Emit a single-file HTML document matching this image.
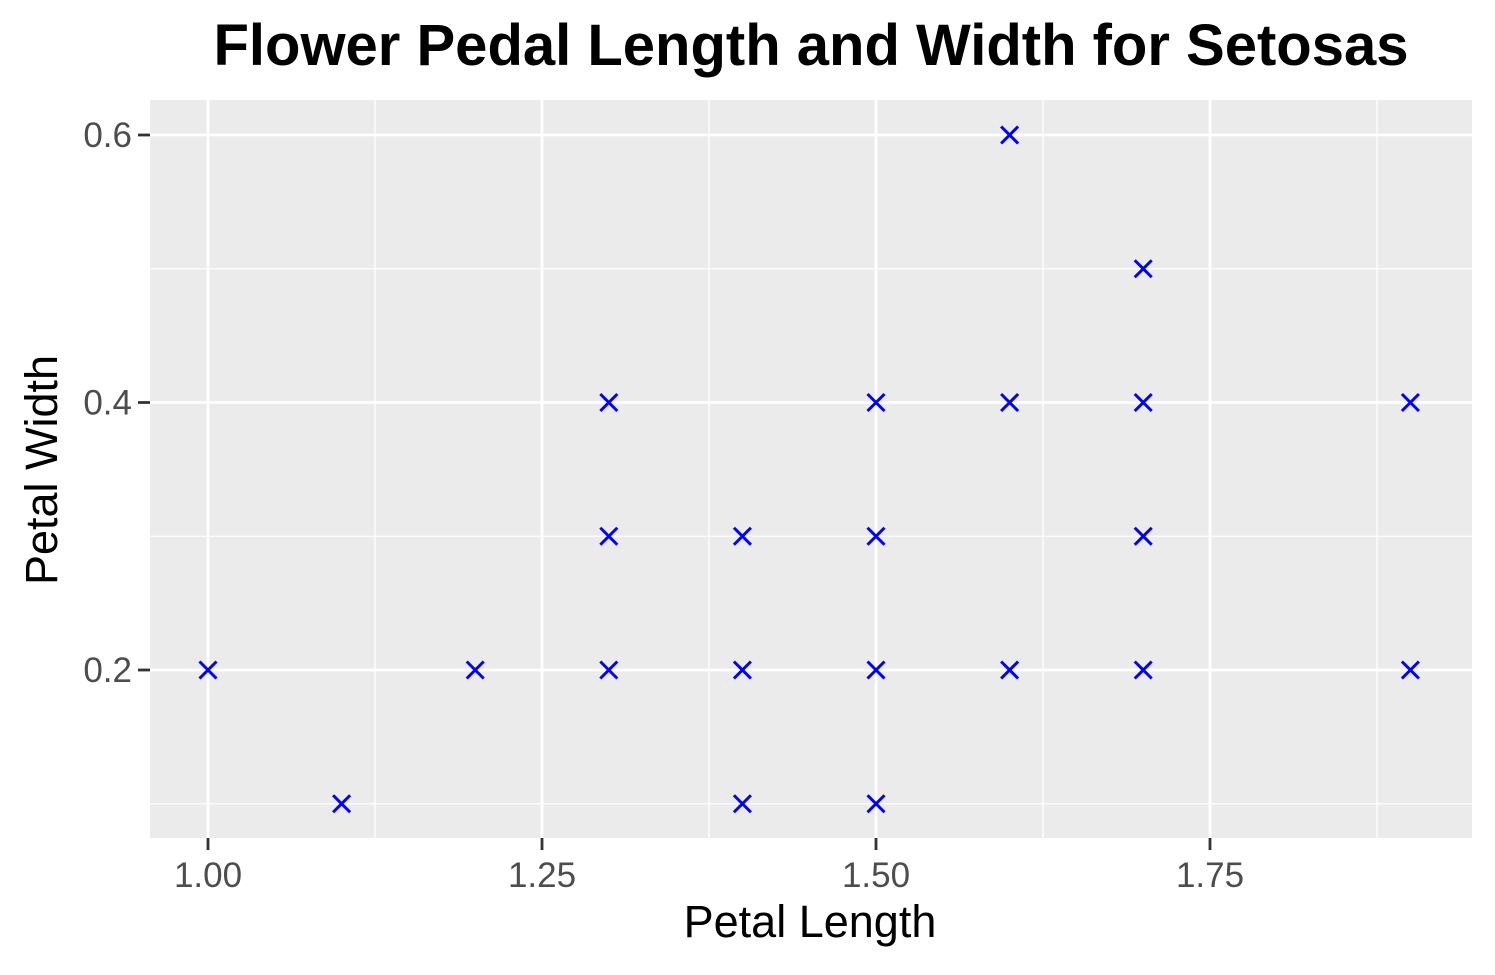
<!DOCTYPE html>
<html><head><meta charset="utf-8"><style>
body{margin:0;background:#fff;}
svg text{font-family:"Liberation Sans",sans-serif;}
</style></head><body>
<svg id="chart" width="1495" height="970" xmlns="http://www.w3.org/2000/svg">
<rect width="1495" height="970" fill="#fff"/>
<text x="811" y="65" text-anchor="middle" font-size="58" font-weight="bold" fill="#000">Flower Pedal Length and Width for Setosas</text>
<rect x="150" y="100" width="1322" height="738" fill="#ebebeb"/>
<g id="grid"></g>
<g id="marks"></g>
<text x="810" y="937" text-anchor="middle" font-size="45" fill="#000">Petal Length</text>
<text transform="translate(57,470) rotate(-90)" text-anchor="middle" font-size="45" fill="#000">Petal Width</text>
</svg>
<script>
const xs=[1.0,1.1,1.2,1.3,1.3,1.3,1.4,1.4,1.4,1.5,1.5,1.5,1.5,1.6,1.6,1.6,1.7,1.7,1.7,1.7,1.9,1.9];
const ys=[0.2,0.1,0.2,0.4,0.3,0.2,0.3,0.2,0.1,0.4,0.3,0.2,0.1,0.6,0.4,0.2,0.5,0.4,0.3,0.2,0.4,0.2];
const xTicks=[1.00,1.25,1.50,1.75];
const xTickLabels=["1.00","1.25","1.50","1.75"];
const yTicks=[0.2,0.4,0.6];
const yTickLabels=["0.2","0.4","0.6"];
const xMinor=[1.125,1.375,1.625,1.875];
const yMinor=[0.1,0.3,0.5];
const NS="http://www.w3.org/2000/svg";
function sx(v){return 208+(v-1.0)*1336;}
function sy(v){return 670-(v-0.2)*1337.5;}
const svg=document.getElementById('chart');
const grid=document.getElementById('grid');
const marks=document.getElementById('marks');
function mk(tag,attrs,parent){const e=document.createElementNS(NS,tag);for(const k in attrs)e.setAttribute(k,attrs[k]);parent.appendChild(e);return e;}
xMinor.forEach(v=>{const l=mk('line',{x1:sx(v),x2:sx(v),y1:100,y2:838,stroke:'#fff','stroke-width':1.3},grid);

});
yMinor.forEach(v=>{const l=mk('line',{x1:150,x2:1472,y1:sy(v),y2:sy(v),stroke:'#fff','stroke-width':1.3},grid);

});
xTicks.forEach((v,i)=>{const l=mk('line',{x1:sx(v),x2:sx(v),y1:100,y2:838,stroke:'#fff','stroke-width':2.8},grid);


const t=mk('line',{x1:sx(v),x2:sx(v),y1:838,y2:850,stroke:'#333','stroke-width':2.8},svg);


const tx=mk('text',{x:sx(v),y:887,'text-anchor':'middle','font-size':35,fill:'#4d4d4d'},svg);tx.textContent=xTickLabels[i];

});
yTicks.forEach((v,i)=>{const l=mk('line',{x1:150,x2:1472,y1:sy(v),y2:sy(v),stroke:'#fff','stroke-width':2.8},grid);


const t=mk('line',{x1:138,x2:150,y1:sy(v),y2:sy(v),stroke:'#333','stroke-width':2.8},svg);


const tx=mk('text',{x:132,y:sy(v)+12,'text-anchor':'end','font-size':35,fill:'#4d4d4d'},svg);tx.textContent=yTickLabels[i];

});
xs.forEach((x,i)=>{const cx=sx(x),cy=sy(ys[i]),r=8.5;
const p=mk('path',{d:`M${cx-r},${cy-r}L${cx+r},${cy+r}M${cx-r},${cy+r}L${cx+r},${cy-r}`,stroke:'#0000ff','stroke-width':3,fill:'none'},marks);

});
</script>
</body></html>
